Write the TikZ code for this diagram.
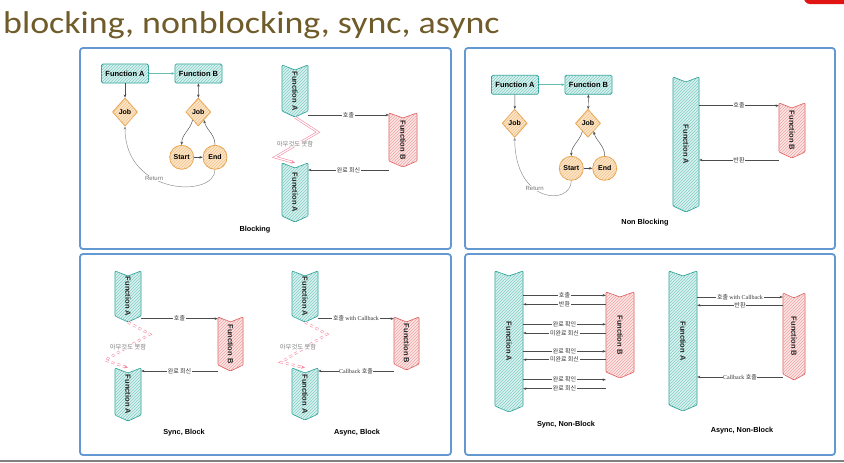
\documentclass[tikz,border=0pt]{standalone}
\usepackage{fontspec}
\setmainfont{Liberation Sans}
\newfontfamily\krf{Noto Sans CJK KR}
\newfontfamily\serf{Liberation Serif}
\newfontfamily\titlef[FakeStretch=1.14]{Carlito}
\usetikzlibrary{shapes.geometric,patterns,arrows.meta,fit}
\definecolor{tlB}{RGB}{40,160,150}
\definecolor{tlF}{RGB}{218,241,239}
\definecolor{tlH}{RGB}{130,205,198}
\definecolor{rdB}{RGB}{222,95,95}
\definecolor{rdF}{RGB}{253,230,230}
\definecolor{rdH}{RGB}{240,165,165}
\definecolor{orB}{RGB}{232,160,72}
\definecolor{orF}{RGB}{252,230,200}
\definecolor{orH}{RGB}{240,195,140}
\definecolor{panelB}{RGB}{100,152,208}
\definecolor{titleC}{RGB}{112,92,42}
\definecolor{pinkZ}{RGB}{245,140,165}
\definecolor{cornerR}{RGB}{225,20,20}
\tikzset{
  chevstyle/.style={draw=#1B, fill=#1F, postaction={pattern=north east lines, pattern color=#1H}, line width=0.7pt, rounded corners=1pt},
  chevtext/.style={inner sep=0, font=\bfseries\fontsize{7.5}{9}\selectfont, text=black!85},
  panel/.style={draw=panelB, line width=1.8pt, rounded corners=3pt},
  conn/.style={draw=black!70, line width=0.45pt, -{Stealth[length=3.2pt,width=2.6pt]}},
  lbl/.style={fill=white, inner sep=0.6pt, font=\krf\fontsize{6}{7}\selectfont, text=black!80},
  fbox/.style={draw=tlB, line width=0.8pt, fill=tlF, postaction={pattern=north east lines, pattern color=tlH}, rounded corners=1.5pt, minimum width=47pt, minimum height=19pt, inner sep=0, font=\bfseries\fontsize{7.5}{9}\selectfont},
  jobd/.style={diamond, draw=orB, line width=0.8pt, fill=orF, postaction={pattern=north east lines, pattern color=orH}, minimum width=25pt, minimum height=28pt, inner sep=0, font=\bfseries\fontsize{7}{8}\selectfont},
  circ/.style={circle, draw=orB, line width=0.8pt, fill=orF, postaction={pattern=north east lines, pattern color=orH}, minimum size=24pt, inner sep=0, font=\bfseries\fontsize{7}{8}\selectfont},
  zigs/.style={draw=pinkZ, double=white, double distance=1.2pt, line width=0.6pt, -{Stealth[length=4pt,width=3.5pt]}},
  zigd/.style={draw=pinkZ, dashed, double=white, double distance=1.2pt, line width=0.6pt, -{Stealth[length=4pt,width=3.5pt]}},
  zlbl/.style={fill=white, fill opacity=0.8, text opacity=1, inner sep=0.5pt, font=\krf\fontsize{6.3}{7}\selectfont, text=black!50},
  ptitle/.style={font=\bfseries\fontsize{7.3}{9}\selectfont},
  rlbl/.style={font=\fontsize{6}{7}\selectfont, text=black!55, inner sep=0.5pt}
}
\newcommand\chev[7]{%
  \path[chevstyle=#6] (#2,#3) -- ({(#2+#4)/2},{#3+5}) -- (#4,#3) -- (#4,{#5-6}) -- ({(#2+#4)/2},#5) -- (#2,{#5-6}) -- cycle;
  \node[fit={(#2,#3) (#4,#5)}, inner sep=0] (#1) {};
  \node[chevtext] (#1t) at (#1.center) {\rotatebox{-90}{#7}};
}
\begin{document}
\begin{tikzpicture}[x=1pt,y=-1pt]
\useasboundingbox (0,0) rectangle (844,463);
\fill[white] (0,0) rectangle (844,463);
% title and frame decorations
\node[anchor=base west, inner sep=0, font=\titlef\fontsize{31.5}{36}\selectfont, text=titleC] (title) at (3,33) {blocking, nonblocking, sync, async};
\fill[cornerR, rounded corners=6pt] (804,-12) rectangle (852,4);
\draw[black!50, line width=1.2pt] (0,461) -- (844,461);
% panels
\draw[panel] (80,48) rectangle (451,249);
\draw[panel] (465,48) rectangle (835,249);
\draw[panel] (80,254) rectangle (451,455);
\draw[panel] (465,254) rectangle (835,455);

% ---------- Panel 1: Blocking ----------
\node[fbox] (p1fa) at (125,73.5) {Function A};
\node[fbox] (p1fb) at (198.5,73.5) {Function B};
\node[jobd] (p1ja) at (125,112) {Job};
\node[jobd] (p1jb) at (198.3,112) {Job};
\node[circ] (p1s) at (181.7,157.3) {Start};
\node[circ] (p1e) at (215,157.3) {End};
\draw[conn, draw=tlB!70] (p1fa) -- (p1fb);
\draw[conn] (p1fa) -- (p1ja);
\draw[conn, {Stealth[length=3.2pt,width=2.6pt]}-{Stealth[length=3.2pt,width=2.6pt]}] (p1fb) -- (p1jb);
\draw[conn] (p1jb.-125) to[out=-105, in=90] (p1s.north);
\draw[conn] (p1e.north) to[out=90, in=-75] (p1jb.-55);
\draw[conn] (p1s) -- (p1e);
\draw[conn, draw=black!45] (p1e.south) .. controls (215,198) and (125,196) .. node[rlbl, pos=0.62, fill=white] (p1ret) {Return} (p1ja.south);
\node[ptitle] (p1t) at (255,230) {Blocking};

\chev{p1a1}{282}{65}{308}{117}{tl}{Function A}
\chev{p1a2}{282}{163}{308}{222}{tl}{Function A}
\chev{p1b}{389}{113}{417}{167}{rd}{Function B}
\draw[conn] (p1a1.east |- 0,115) -- node[lbl] (p1l1) {호출} (p1b.west |- 0,115);
\draw[conn] (p1b.west |- 0,170) -- node[lbl] (p1l2) {완료 회신} (p1a2.east |- 0,170);
\draw[zigs] (p1a1.south) -- ++(23,15) -- ++(-43,25) -- (p1a2.north);
\node[zlbl] (p1z) at (295,144) {아무것도 못함};

% ---------- Panel 2: Non Blocking ----------
\node[fbox] (p2fa) at (515,84.7) {Function A};
\node[fbox] (p2fb) at (588.5,84.7) {Function B};
\node[jobd] (p2ja) at (514.7,123.3) {Job};
\node[jobd] (p2jb) at (588,123.3) {Job};
\node[circ] (p2s) at (571.3,168.3) {Start};
\node[circ] (p2e) at (604.7,168.3) {End};
\draw[conn, draw=tlB!70] (p2fa) -- (p2fb);
\draw[conn] (p2fa) -- (p2ja);
\draw[conn, {Stealth[length=3.2pt,width=2.6pt]}-{Stealth[length=3.2pt,width=2.6pt]}] (p2fb) -- (p2jb);
\draw[conn] (p2jb.-125) to[out=-105, in=90] (p2s.north);
\draw[conn] (p2e.north) to[out=90, in=-75] (p2jb.-55);
\draw[conn] (p2s) -- (p2e);
\draw[conn, draw=black!45] (p2s.south) .. controls (571,206) and (515,204) .. node[rlbl, pos=0.6, fill=white] (p2ret) {Return} (p2ja.south);
\node[ptitle] (p2t) at (645,223) {Non Blocking};

\chev{p2a}{673}{77}{699}{212}{tl}{Function A}
\chev{p2b}{779}{103}{805}{158}{rd}{Function B}
\draw[conn] (p2a.east |- 0,105.7) -- node[lbl] (p2l1) {호출} (p2b.west |- 0,105.7);
\draw[conn] (p2b.west |- 0,160) -- node[lbl] (p2l2) {반환} (p2a.east |- 0,160);

% ---------- Panel 3: Sync, Block / Async, Block ----------
\chev{p3a1}{115}{271}{141}{322}{tl}{Function A}
\chev{p3a2}{115}{368}{141}{421}{tl}{Function A}
\chev{p3b}{218}{317}{243}{371}{rd}{Function B}
\draw[conn] (p3a1.east |- 0,318.7) -- node[lbl] (p3l1) {호출} (p3b.west |- 0,318.7);
\draw[conn] (p3b.west |- 0,371) -- node[lbl] (p3l2) {완료 회신} (p3a2.east |- 0,371);
\draw[zigd] (p3a1.south) -- ++(22,12) -- ++(-45,26) -- (p3a2.north);
\node[zlbl] (p3z) at (128,347) {아무것도 못함};
\node[ptitle] (p3t) at (184,433) {Sync, Block};

\chev{p3c1}{292}{271}{318}{322}{tl}{Function A}
\chev{p3c2}{292}{368}{318}{420}{tl}{Function A}
\chev{p3d}{394}{317}{419}{370}{rd}{Function B}
\draw[conn] (p3c1.east |- 0,318.7) -- node[lbl] (p3l3) {호출 {\serf with Callback}} (p3d.west |- 0,318.7);
\draw[conn] (p3d.west |- 0,371) -- node[lbl] (p3l4) {{\serf Callback} 호출} (p3c2.east |- 0,371);
\draw[zigd] (p3c1.south) -- ++(22,12) -- ++(-46,28) -- (p3c2.north);
\node[zlbl] (p3z2) at (298,347) {아무것도 못함};
\node[ptitle] (p3t2) at (357,433) {Async, Block};

% ---------- Panel 4: Sync, Non-Block / Async, Non-Block ----------
\chev{p4a}{495}{271}{523}{412}{tl}{Function A}
\chev{p4b}{606}{292}{634}{378}{rd}{Function B}
\draw[conn] (p4a.east |- 0,295.3) -- node[lbl] (p4l1) {호출} (p4b.west |- 0,295.3);
\draw[conn] (p4b.west |- 0,304.3) -- node[lbl] (p4l2) {반환} (p4a.east |- 0,304.3);
\draw[conn] (p4a.east |- 0,324.3) -- node[lbl] (p4l3) {완료 확인} (p4b.west |- 0,324.3);
\draw[conn] (p4b.west |- 0,333) -- node[lbl] (p4l4) {미완료 회신} (p4a.east |- 0,333);
\draw[conn] (p4a.east |- 0,351.3) -- node[lbl] (p4l5) {완료 확인} (p4b.west |- 0,351.3);
\draw[conn] (p4b.west |- 0,359.7) -- node[lbl] (p4l6) {미완료 회신} (p4a.east |- 0,359.7);
\draw[conn] (p4a.east |- 0,379.7) -- node[lbl] (p4l7) {완료 확인} (p4b.west |- 0,379.7);
\draw[conn] (p4b.west |- 0,388.7) -- node[lbl] (p4l8) {완료 회신} (p4a.east |- 0,388.7);
\node[ptitle] (p4t) at (566,425) {Sync, Non-Block};

\chev{p4c}{669}{271}{697}{411}{tl}{Function A}
\chev{p4d}{783}{293}{805}{380}{rd}{Function B}
\draw[conn] (p4c.east |- 0,297) -- node[lbl] (p4l9) {호출 {\serf with Callback}} (p4d.west |- 0,297);
\draw[conn] (p4d.west |- 0,305.3) -- node[lbl] (p4l10) {반환} (p4c.east |- 0,305.3);
\draw[conn] (p4d.west |- 0,377) -- node[lbl] (p4l11) {{\serf Callback} 호출} (p4c.east |- 0,377);
\node[ptitle] (p4t2) at (742,431) {Async, Non-Block};
\end{tikzpicture}
\end{document}
